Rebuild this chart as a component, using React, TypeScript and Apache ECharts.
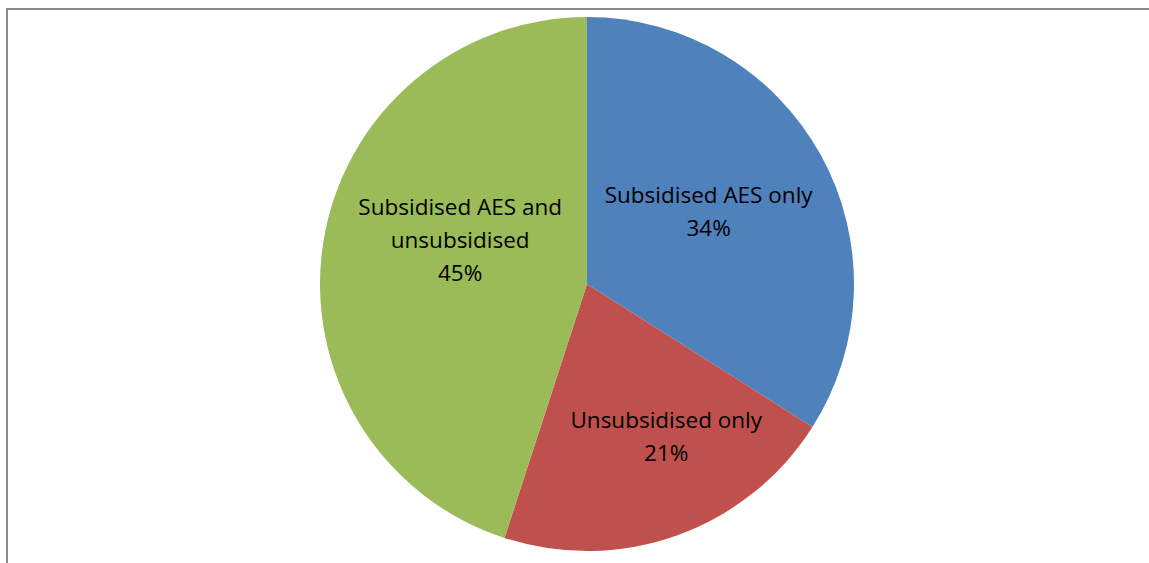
import React, { useEffect, useRef } from "react";
import * as echarts from "echarts";

const categories = ["Subsidised AES only", "Unsubsidised only", "Subsidised AES and\nunsubsidised"];
const values = [34, 21, 45];
const colors = ["#4F81BD", "#C0504D", "#9BBB59"];
const labelShift = [
  { dx: 2, dy: -7 },
  { dx: 33, dy: 24 },
  { dx: 8, dy: -23 },
];

export default function App() {
  const ref = useRef<HTMLDivElement>(null);
  useEffect(() => {
    if (!ref.current) return;
    const chart = echarts.init(ref.current, undefined, { renderer: "svg" });
    chart.setOption({
      animation: false,
      backgroundColor: "#ffffff",
      graphic: [
        {
          type: "rect",
          shape: { x: 7, y: 9, width: 1300, height: 700 },
          style: { fill: "none", stroke: "#8a8a8a", lineWidth: 2 },
          silent: true,
          z: -1,
        },
      ],
      series: [
        {
          type: "pie",
          center: [587, 284],
          radius: 267,
          startAngle: 90,
          clockwise: true,
          label: {
            show: true,
            position: "inside",
            formatter: "{b}\n{c}%",
            color: "#000",
            fontFamily: "Open Sans",
            fontSize: 22.5,
            lineHeight: 33,
            align: "center",
          },
          labelLine: { show: false },
          labelLayout: (p: any) => labelShift[p.dataIndex],
          emphasis: { disabled: true },
          itemStyle: { borderWidth: 0 },
          data: categories.map((c, i) => ({
            name: c,
            value: values[i],
            itemStyle: { color: colors[i] },
          })),
        },
      ],
    });
    return () => chart.dispose();
  }, []);
  return (
    <div
      ref={ref}
      style={{ position: "fixed", left: 0, top: 0, width: 1149, height: 563 }}
    />
  );
}
